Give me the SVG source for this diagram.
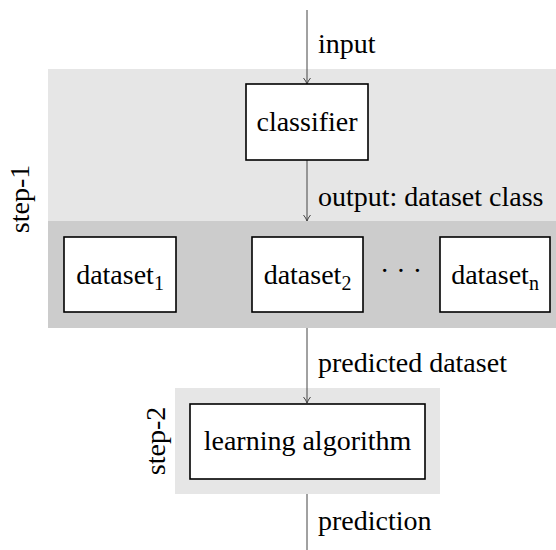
<svg xmlns="http://www.w3.org/2000/svg" width="556" height="550" viewBox="0 0 556 550">
<style>
text{font-family:"Liberation Serif","Times New Roman","DejaVu Serif",serif;font-size:28px;fill:#000}
.box{fill:#fff;stroke:#000;stroke-width:1.6}
.edge{stroke:#444;stroke-width:1;fill:none;marker-end:url(#ah)}
.lbl{text-anchor:start}
.c{text-anchor:middle}
.sub{font-size:20px}
</style>
<defs>
<marker id="ah" markerWidth="10" markerHeight="8" refX="7" refY="4" orient="auto" markerUnits="userSpaceOnUse">
<path d="M1,0.5 Q4,3 7,4 Q4,5 1,7.5" fill="none" stroke="#444" stroke-width="1"/>
</marker>
</defs>
<g font-family="Liberation Serif, Times New Roman, DejaVu Serif, serif">
<g id="step1">
<rect x="48" y="69" width="508" height="152" fill="#e6e6e6"/>
<rect x="48" y="221" width="508" height="107" fill="#cccccc"/>
<text class="c" transform="translate(29,199) rotate(-90)">step-1</text>
</g>
<g id="step2">
<rect x="175" y="388" width="265" height="106" fill="#e6e6e6"/>
<text class="c" transform="translate(165,441) rotate(-90)">step-2</text>
</g>
<g id="connectors">
<line class="edge" x1="307" y1="10" x2="307" y2="84"/>
<line class="edge" x1="307" y1="160" x2="307" y2="221"/>
<line class="edge" x1="307" y1="328" x2="307" y2="403"/>
<line class="edge" x1="307" y1="494" x2="307" y2="556"/>
<text class="lbl" x="318" y="53">input</text>
<text class="lbl" x="318" y="206">output: dataset class</text>
<text class="lbl" x="318" y="372">predicted dataset</text>
<text class="lbl" x="318" y="530">prediction</text>
</g>
<g id="classifier">
<rect class="box" x="246" y="84" width="122" height="76"/>
<text class="c" x="307" y="131">classifier</text>
</g>
<g id="dataset1">
<rect class="box" x="64" y="237" width="112" height="75"/>
<text class="c" x="120" y="284">dataset<tspan class="sub" dy="6">1</tspan></text>
</g>
<g id="dataset2">
<rect class="box" x="252" y="237" width="111" height="75"/>
<text class="c" x="307.5" y="284">dataset<tspan class="sub" dy="6">2</tspan></text>
</g>
<g id="dots">
<text class="c" x="401" y="280">· · ·</text>
</g>
<g id="datasetn">
<rect class="box" x="440" y="237" width="110" height="75"/>
<text class="c" x="495" y="284">dataset<tspan class="sub" dy="6">n</tspan></text>
</g>
<g id="learning">
<rect class="box" x="190" y="404" width="235" height="75"/>
<text class="c" x="307.5" y="450">learning algorithm</text>
</g>
</g>
</svg>
